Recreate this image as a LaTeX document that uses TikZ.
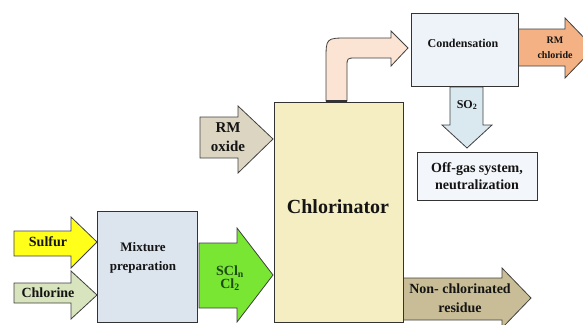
\documentclass[tikz,border=0pt]{standalone}
\usepackage{fontspec}
\setmainfont{Liberation Serif}
\definecolor{sulfurc}{HTML}{FFFF1A}
\definecolor{chlorc}{HTML}{D7E4BD}
\definecolor{mixc}{HTML}{DCE4EE}
\definecolor{sclc}{HTML}{78E632}
\definecolor{chlorinc}{HTML}{F5EEC2}
\definecolor{oxidec}{HTML}{DCD5C2}
\definecolor{residc}{HTML}{C8BD96}
\definecolor{bentc}{HTML}{FCE4D4}
\definecolor{condc}{HTML}{EEF3F9}
\definecolor{rmclc}{HTML}{F4B183}
\definecolor{so2c}{HTML}{DAE8F0}
\definecolor{offgc}{HTML}{F3F6FA}
\definecolor{sclink}{HTML}{1E4A14}

\begin{document}
\begin{tikzpicture}[x=1pt,y=-1pt]
  \tikzset{blockarr/.style={draw=black!75, line width=0.8pt, line join=miter}}
  \tikzset{unitbox/.style={draw=black!80, line width=0.9pt, inner sep=0pt}}
  \tikzset{lbl/.style={font=\fontsize{14}{17}\selectfont\bfseries, align=center, text=black!92}}
  \useasboundingbox (0,0) rectangle (583,324);
  \draw[blockarr, fill=sulfurc] (14,231) -- (71,231) -- (71,217) -- (97,242) -- (71,268) -- (71,256) -- (14,256) -- cycle;
  \draw[blockarr, fill=chlorc] (14,283) -- (71,283) -- (71,271) -- (97,295) -- (71,319) -- (71,303) -- (14,303) -- cycle;
  \draw[blockarr, fill=sclc] (199,243) -- (237,243) -- (237,228) -- (273,275) -- (237,322) -- (237,308) -- (199,308) -- cycle;
  \draw[blockarr, fill=oxidec] (200,117) -- (238,117) -- (238,106) -- (273,139) -- (238,173) -- (238,158) -- (200,158) -- cycle;
  \draw[blockarr, fill=residc] (403,278) -- (502,278) -- (502,268) -- (531,298) -- (502,328) -- (502,320) -- (403,320) -- cycle;
  \draw[blockarr, fill=rmclc] (518,29) -- (565,29) -- (565,18) -- (594,48) -- (565,78) -- (565,66) -- (518,66) -- cycle;
  \draw[blockarr, fill=so2c] (450,87) -- (483,87) -- (483,125) -- (492,125) -- (467,148) -- (442,125) -- (450,125) -- cycle;
  \draw[blockarr, fill=bentc] (326,101) -- (326,60) .. controls (326,38) and (326,38) .. (348,38) -- (391,38) -- (391,31)
    -- (408,48) -- (391,66) -- (391,58) -- (356,58) .. controls (347,58) and (347,58) .. (347,67) -- (347,101) -- cycle;
  \draw[black!80, line width=2pt] (326,101) -- (347,101);
  \node[unitbox, fill=mixc, minimum width=100pt, minimum height=111pt] (mix) at (147,266.5) {};
  \node[unitbox, fill=chlorinc, minimum width=129pt, minimum height=220pt] (chlorin) at (338.5,212) {};
  \node[unitbox, fill=condc, minimum width=107pt, minimum height=73pt] (cond) at (464.5,49.5) {};
  \node[unitbox, fill=offgc, minimum width=120pt, minimum height=48pt] (offgas) at (477,176) {};
  \node[lbl] (sulfurtxt) at (48,242) {Sulfur};
  \node[lbl] (chlortxt) at (48,293) {Chlorine};
  \node[lbl, font=\fontsize{13}{19}\selectfont\bfseries] (mixtxt) at (143,258) {Mixture\\preparation};
  \node[lbl, text=sclink, font=\fontsize{14}{13}\selectfont\bfseries] (scltxt) at (230,278) {SCl\textsubscript{n}\\Cl\textsubscript{2}};
  \node[lbl, font=\fontsize{15}{19}\selectfont\bfseries] (oxtxt) at (228,137) {RM\\oxide};
  \node[lbl, font=\fontsize{20}{24}\selectfont\bfseries] (chlorintxt) at (338,207) {Chlorinator};
  \node[lbl, font=\fontsize{14}{19}\selectfont\bfseries] (restxt) at (460,298) {Non- chlorinated\\residue};
  \node[lbl] (offtxt) at (477,176) {Off-gas system,\\neutralization};
  \node[lbl, font=\fontsize{12}{14}\selectfont\bfseries] (so2txt) at (467,105) {SO\textsubscript{2}};
  \node[lbl, font=\fontsize{12}{14}\selectfont\bfseries] (condtxt) at (463,43) {Condensation};
  \node[lbl, font=\fontsize{10}{15}\selectfont\bfseries] (rmcltxt) at (555,48) {RM\\chloride};
\end{tikzpicture}
\end{document}
